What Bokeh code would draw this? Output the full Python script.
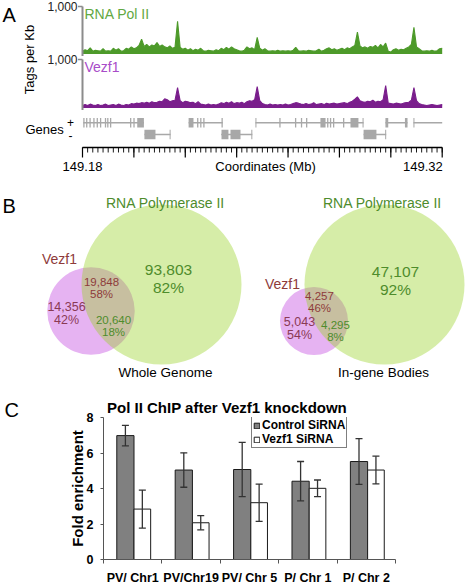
import numpy as np
from bokeh.plotting import figure
from bokeh.models import Range1d, ColumnDataSource, FixedTicker, Legend, LegendItem
from bokeh.layouts import column, row
from bokeh.embed import file_html
from bokeh.resources import INLINE
from bokeh.core.properties import value

# ---------------- Panel A data ----------------
region_start_mb = 149.18
region_end_mb = 149.32
bin_kb = list(range(141))
polII_tags_per_kb = [
    60, 90, 70, 130, 60, 80, 70, 60, 110, 60,
    70, 60, 120, 80, 110, 60, 70, 120, 100, 150,
    110, 130, 180, 310, 160, 200, 150, 190, 170, 240,
    160, 190, 150, 130, 170, 120, 140, 690, 140, 100,
    120, 80, 110, 70, 100, 80, 120, 70, 60, 80,
    70, 60, 90, 70, 120, 90, 140, 100, 150, 110,
    90, 70, 60, 80, 150, 110, 130, 90, 350, 120,
    80, 110, 70, 60, 70, 60, 80, 60, 70, 60,
    70, 60, 80, 140, 70, 60, 70, 60, 80, 70,
    60, 70, 100, 60, 80, 110, 130, 90, 110, 80,
    100, 120, 90, 130, 110, 150, 180, 460, 170, 130,
    150, 120, 160, 140, 180, 130, 200, 150, 230, 60,
    40, 90, 110, 80, 100, 90, 120, 150, 200, 560,
    150, 110, 70, 60, 70, 60, 80, 60, 70, 110,
    120]
vezf1_tags_per_kb = [
    50, 70, 50, 80, 60, 50, 70, 50, 60, 80,
    50, 60, 70, 50, 80, 60, 50, 70, 60, 90,
    80, 100, 90, 110, 100, 120, 100, 130, 110, 120,
    140, 130, 190, 170, 130, 150, 160, 420, 150, 110,
    140, 130, 110, 120, 90, 130, 80, 70, 60, 80,
    60, 70, 60, 80, 110, 90, 120, 100, 130, 90,
    110, 100, 120, 90, 130, 150, 140, 170, 440, 150,
    90, 70, 60, 80, 60, 70, 60, 70, 60, 80,
    60, 70, 90, 110, 100, 80, 70, 90, 70, 80,
    110, 70, 80, 90, 70, 100, 80, 90, 100, 80,
    90, 100, 110, 90, 120, 140, 180, 230, 150, 130,
    120, 140, 130, 160, 120, 140, 130, 170, 460, 100,
    90, 80, 100, 90, 80, 100, 110, 120, 160, 420,
    150, 90, 70, 60, 50, 60, 70, 60, 50, 60,
    70]
track_names = ["RNA Pol II", "Vezf1"]
track_axis_max = 1000
coord_major_ticks = [149.18, 149.20, 149.22, 149.24, 149.26, 149.28, 149.30, 149.32]
coord_minor_step = 0.002
# gene models (kb from region start)
plus_gene_spans_kb = [(0.3, 23.9), (41.3, 54.6), (67.3, 109.4), (117.9, 126.5), (128.8, 140.0)]
plus_exons_kb = [(0.3, 0.8), (1.4, 1.9), (2.7, 3.2), (4.2, 4.7), (5.5, 6.0), (6.8, 7.3),
                 (8.7, 9.2), (9.6, 10.1), (10.7, 11.2), (18.5, 19.0), (19.8, 20.3), (21.3, 23.9),
                 (41.3, 43.2), (44.6, 45.1), (45.8, 46.3), (47.0, 47.5), (54.1, 54.6),
                 (67.3, 67.7), (76.6, 77.1), (82.7, 83.2), (85.0, 85.5), (87.0, 87.5),
                 (92.6, 94.6), (95.2, 95.7), (96.3, 96.8), (97.5, 98.0), (101.4, 101.9),
                 (104.3, 107.4), (109.0, 109.4), (117.9, 119.0), (125.5, 126.5), (128.8, 129.2)]
minus_gene_spans_kb = [(24.1, 34.3), (54.0, 66.1), (109.4, 118.2)]
minus_exons_kb = [(24.1, 28.4), (33.9, 34.3), (54.1, 56.8), (57.6, 61.5), (65.7, 66.1),
                  (109.4, 114.4), (117.8, 118.2)]

# ---------------- Panel B data ----------------
venn_titles = ["Whole Genome", "In-gene Bodies"]
vezf1_only = [14356, 5043]
vezf1_only_pct = [42, 54]
shared_vezf1 = [19848, 4257]
shared_vezf1_pct = [58, 46]
shared_polII = [20640, 4295]
shared_polII_pct = [18, 8]
polII_only = [93803, 47107]
polII_only_pct = [82, 92]

# ---------------- Panel C data ----------------
loci = ["PV/ Chr1", "PV/Chr19", "PV/ Chr 5", "P/ Chr 1", "P/ Chr 2"]
series_names = ["Control SiRNA", "Vezf1 SiRNA"]
control_fold = [6.98, 5.04, 5.07, 4.41, 5.52]
control_err = [0.58, 0.97, 1.53, 1.11, 1.29]
knockdown_fold = [2.84, 2.07, 3.20, 4.01, 5.04]
knockdown_err = [1.07, 0.40, 1.05, 0.47, 0.78]
fold_ticks = [0, 2, 4, 6, 8]

# ---------------- styling / layout helpers ----------------
W = 465
FONT_NAME = "Liberation Sans"
FONT = value(FONT_NAME)
GREEN = "#4d9a2a"
PURPLE = "#7a1e8c"
GENE_GRAY = "#a8a8a8"
AX_GRAY = "#8c8c8c"


def fpx(n):
    return f"{n:.1f}px"


def lin_range(va, ra, vb, rb, r_start, r_end):
    k = (vb - va) / (rb - ra)
    return Range1d(start=va + (r_start - ra) * k, end=va + (r_end - ra) * k)


def base_fig(w, h, **kw):
    p = figure(width=w, height=h, output_backend="svg", toolbar_location=None, **kw)
    p.outline_line_color = None
    p.background_fill_color = "white"
    p.border_fill_color = "white"
    p.frame_align = False
    return p


def txt(p, x, y, s, size, color="black", align="center", bold=False, angle=0.0, **kw):
    p.text(x=[x], y=[y], text=[s], text_font=FONT, text_font_size=fpx(size),
           text_color=color, text_align=align, text_baseline="middle", angle=angle,
           text_font_style="bold" if bold else "normal", **kw)


# ================= Panel A =================
HA = 186
pA = base_fig(W, HA, x_range=lin_range(region_start_mb, 82, region_end_mb, 441.7, 0, W),
              y_range=lin_range(1, 122.3, 0, 134, HA, 0),
              x_axis_location=None, y_axis_location=None, min_border=0)
pA.extra_x_ranges = {"px": Range1d(0, W)}
pA.extra_y_ranges = {"px": Range1d(HA, 0),
                     "pol": lin_range(1000, 6, 0, 53.5, HA, 0),
                     "vez": lin_range(1000, 59, 0, 107.5, HA, 0)}
pA.grid.visible = False

x_mb = [region_start_mb + k / 1000 for k in bin_kb]
srcA = ColumnDataSource(dict(x=x_mb, pol=polII_tags_per_kb, vez=vezf1_tags_per_kb))
for col, rng, color in [("pol", "pol", GREEN), ("vez", "vez", PURPLE)]:
    pA.varea(x="x", y1=0, y2=col, source=srcA, fill_color=color, y_range_name=rng)
    pA.line("x", col, source=srcA, line_color=color, line_width=1.1, y_range_name=rng)
    pA.segment(x0=[region_start_mb], y0=[-40], x1=[region_start_mb], y1=[track_axis_max],
               line_color=AX_GRAY, line_width=2, y_range_name=rng)
    pA.segment(x0=[77.5], y0=[track_axis_max], x1=[82], y1=[track_axis_max],
               line_color=AX_GRAY, line_width=1.5, x_range_name="px", y_range_name=rng)
    pA.text(x=[77], y=[track_axis_max], text=[f"{track_axis_max:,}"], text_font=FONT,
            text_font_size=fpx(12), text_color="#222222", text_align="right",
            text_baseline="middle", x_range_name="px", y_range_name=rng)

# genes
def kb2mb(k):
    return region_start_mb + k / 1000

g_x0 = [kb2mb(a) for a, b in plus_gene_spans_kb] + [kb2mb(a) for a, b in minus_gene_spans_kb]
g_x1 = [kb2mb(b) for a, b in plus_gene_spans_kb] + [kb2mb(b) for a, b in minus_gene_spans_kb]
g_y = [1] * len(plus_gene_spans_kb) + [0] * len(minus_gene_spans_kb)
pA.segment(x0=g_x0, y0=g_y, x1=g_x1, y1=g_y, line_color=GENE_GRAY, line_width=1.6)
e_l = [kb2mb(a) for a, b in plus_exons_kb] + [kb2mb(a) for a, b in minus_exons_kb]
e_r = [kb2mb(b) for a, b in plus_exons_kb] + [kb2mb(b) for a, b in minus_exons_kb]
e_y = np.array([1] * len(plus_exons_kb) + [0] * len(minus_exons_kb), dtype=float)
pA.quad(left=e_l, right=e_r, bottom=e_y - 0.4, top=e_y + 0.4, fill_color=GENE_GRAY, line_color=None)

# coordinate axis
minor_ticks = np.arange(region_start_mb, region_end_mb + 1e-9, coord_minor_step)
pA.segment(x0=[region_start_mb], y0=[147], x1=[region_end_mb], y1=[147], line_color="black",
           line_width=1.4, y_range_name="px")
pA.segment(x0=coord_major_ticks, y0=147, x1=coord_major_ticks, y1=157, line_color="black",
           line_width=1.2, y_range_name="px")
pA.segment(x0=minor_ticks, y0=147, x1=minor_ticks, y1=152, line_color="black",
           line_width=0.9, y_range_name="px")
txt(pA, region_start_mb, 166, f"{coord_major_ticks[0]:.2f}", 13, y_range_name="px")
txt(pA, region_end_mb + 0.0002, 166, f"{coord_major_ticks[-1]:.2f}", 13, align="right", y_range_name="px")
txt(pA, 265, 166, "Coordinates (Mb)", 13, x_range_name="px", y_range_name="px")

# panel A labels
txt(pA, 2, 14, "A", 20, align="left", x_range_name="px", y_range_name="px")
txt(pA, 84, 13, track_names[0], 14, color="#62a843", align="left", x_range_name="px", y_range_name="px")
txt(pA, 84, 66, track_names[1], 14, color="#a84cc8", align="left", x_range_name="px", y_range_name="px")
txt(pA, 29, 59, "Tags per Kb", 13, angle=np.pi / 2, x_range_name="px", y_range_name="px")
txt(pA, 25, 129, "Genes", 13, align="left", x_range_name="px", y_range_name="px")
txt(pA, 70, 122, "+", 12, x_range_name="px", y_range_name="px")
txt(pA, 70, 135, "-", 12, x_range_name="px", y_range_name="px")

# ================= Panel B =================
HB = 204
rtB = 186
pB = base_fig(W, HB, x_range=Range1d(0, W), y_range=Range1d(rtB + HB, rtB),
              x_axis_location=None, y_axis_location=None, min_border=0)
pB.grid.visible = False

R = 80.0
pol_centers = [(161, 284), (384, 284)]
vez_centers = [(90.5, 310.5), (313.5, 320.5)]
pol_total = [a + b for a, b in zip(polII_only, shared_polII)]
vez_total = [a + b for a, b in zip(vezf1_only, shared_vezf1)]
vez_r = [R * np.sqrt(v / t) for v, t in zip(vez_total, pol_total)]
pB.circle(x=[c[0] for c in vez_centers], y=[c[1] for c in vez_centers], radius=vez_r,
          fill_color="#e6b3f2", line_color=None)
pB.circle(x=[c[0] for c in pol_centers], y=[c[1] for c in pol_centers], radius=R,
          fill_color="#98d225", fill_alpha=0.4, line_color=None)

TG = "#4e8c2c"
TR = "#8e3b3b"
TP = "#8a3a55"
txt(pB, 2, 205, "B", 20, align="left")
layouts = [
    dict(title=(165, 202), vez=(59, 258), po=(168, 269), sv=(101, 281), vo=(66, 306), sp=(113, 319), sub=(165, 372)),
    dict(title=(382, 202), vez=(282, 283), po=(395, 271), sv=(319, 295), vo=(299, 321), sp=(335, 324), sub=(383, 372)),
]
for i, L in enumerate(layouts):
    txt(pB, *L["title"], "RNA Polymerase II", 14, color=TG)
    txt(pB, *L["vez"], "Vezf1", 14, color=TR)
    txt(pB, L["po"][0], L["po"][1], f"{polII_only[i]:,}", 15.5, color=TG)
    txt(pB, L["po"][0], L["po"][1] + 18, f"{polII_only_pct[i]}%", 15.5, color=TG)
    txt(pB, L["sv"][0], L["sv"][1], f"{shared_vezf1[i]:,}", 11.5, color=TR)
    txt(pB, L["sv"][0], L["sv"][1] + 12.5, f"{shared_vezf1_pct[i]}%", 11.5, color=TR)
    txt(pB, L["vo"][0], L["vo"][1], f"{vezf1_only[i]:,}", 12.5, color=TP)
    txt(pB, L["vo"][0], L["vo"][1] + 13, f"{vezf1_only_pct[i]}%", 12.5, color=TP)
    txt(pB, L["sp"][0], L["sp"][1], f"{shared_polII[i]:,}", 11.5, color=TG)
    txt(pB, L["sp"][0], L["sp"][1] + 12.5, f"{shared_polII_pct[i]}%", 11.5, color=TG)
    txt(pB, *L["sub"], venn_titles[i], 13.5)

# ================= Panel C =================
HC = 197
LW = 24   # narrow strip holding the panel letter
pCl = base_fig(LW, HC, x_range=Range1d(0, LW), y_range=Range1d(HC, 0),
               x_axis_location=None, y_axis_location=None, min_border=0)
pCl.grid.visible = False
txt(pCl, 4, 19, "C", 20, align="left")

WC = W - LW
MB_L, MB_R, MB_T, MB_B = 79, 70, 27, 22
n = len(loci)
pC = base_fig(WC, HC, x_range=Range1d(-0.5, n - 0.5), y_range=Range1d(0, 8),
              min_border_left=MB_L, min_border_right=MB_R, min_border_top=MB_T, min_border_bottom=MB_B,
              title="Pol II ChIP after Vezf1 knockdown")
pC.grid.visible = False

idx = np.arange(n)
cx = idx - 0.125
kx = idx + 0.165
c = np.array(control_fold); ce = np.array(control_err)
k = np.array(knockdown_fold); ke = np.array(knockdown_err)
r_ctrl = pC.vbar(x=cx, top=c, width=0.295, fill_color="#808080", line_color="#1a1a1a", line_width=1)
r_kd = pC.vbar(x=kx, top=k, width=0.285, fill_color="white", line_color="#1a1a1a", line_width=1)
for xs, v, e in [(cx, c, ce), (kx, k, ke)]:
    pC.segment(x0=xs, y0=v - e, x1=xs, y1=v + e, line_color="#333333", line_width=1.3)
    pC.segment(x0=xs - 0.06, y0=v + e, x1=xs + 0.06, y1=v + e, line_color="#333333", line_width=1.3)
    pC.segment(x0=xs - 0.06, y0=v - e, x1=xs + 0.06, y1=v - e, line_color="#333333", line_width=1.3)

pC.title.text_font = FONT_NAME
pC.title.text_font_size = fpx(15)
pC.title.text_font_style = "bold"
pC.title.text_color = "black"
pC.title.align = "left"
pC.title.offset = 3.5
pC.title.standoff = 3

pC.yaxis.ticker = FixedTicker(ticks=fold_ticks, minor_ticks=[])
pC.yaxis.axis_label = "Fold enrichment"
pC.yaxis.axis_label_text_font = FONT_NAME
pC.yaxis.axis_label_text_font_size = fpx(15)
pC.yaxis.axis_label_text_font_style = "bold"
pC.yaxis.axis_label_text_color = "black"
pC.yaxis.axis_label_standoff = -2
pC.yaxis.major_tick_out = 3
pC.yaxis.major_tick_in = 0
pC.yaxis.major_label_standoff = 7
pC.xaxis.ticker = FixedTicker(ticks=list(range(n)), minor_ticks=[i - 0.5 for i in range(n + 1)])
pC.xaxis.major_label_overrides = {i: s for i, s in enumerate(loci)}
pC.xaxis.major_tick_out = 0
pC.xaxis.major_tick_in = 0
pC.xaxis.minor_tick_out = 4
pC.xaxis.minor_tick_in = 0
pC.xaxis.major_label_standoff = 7
for ax in [pC.xaxis, pC.yaxis]:
    ax.major_label_text_font = FONT_NAME
    ax.major_label_text_font_size = fpx(12.5)
    ax.major_label_text_font_style = "bold"
    ax.major_label_text_color = "black"
    ax.axis_line_color = "#555555"
    ax.major_tick_line_color = "#555555"
    ax.minor_tick_line_color = "#555555"

legend = Legend(items=[LegendItem(label=series_names[0], renderers=[r_ctrl]),
                       LegendItem(label=series_names[1], renderers=[r_kd])],
                location=(148, 111), orientation="vertical")
legend.label_text_font = FONT_NAME
legend.label_text_font_size = fpx(12)
legend.label_text_font_style = "bold"
legend.label_text_color = "black"
legend.glyph_width = 7
legend.glyph_height = 7
legend.label_height = 10
legend.label_standoff = 2
legend.spacing = 0
legend.padding = 1
legend.margin = 0
legend.border_line_color = "black"
legend.border_line_width = 1
legend.background_fill_color = "white"
legend.background_fill_alpha = 1
pC.add_layout(legend)

layout = column(pA, pB, row(pCl, pC, spacing=0), spacing=0)
open("out.html", "w").write(file_html(layout, INLINE))
